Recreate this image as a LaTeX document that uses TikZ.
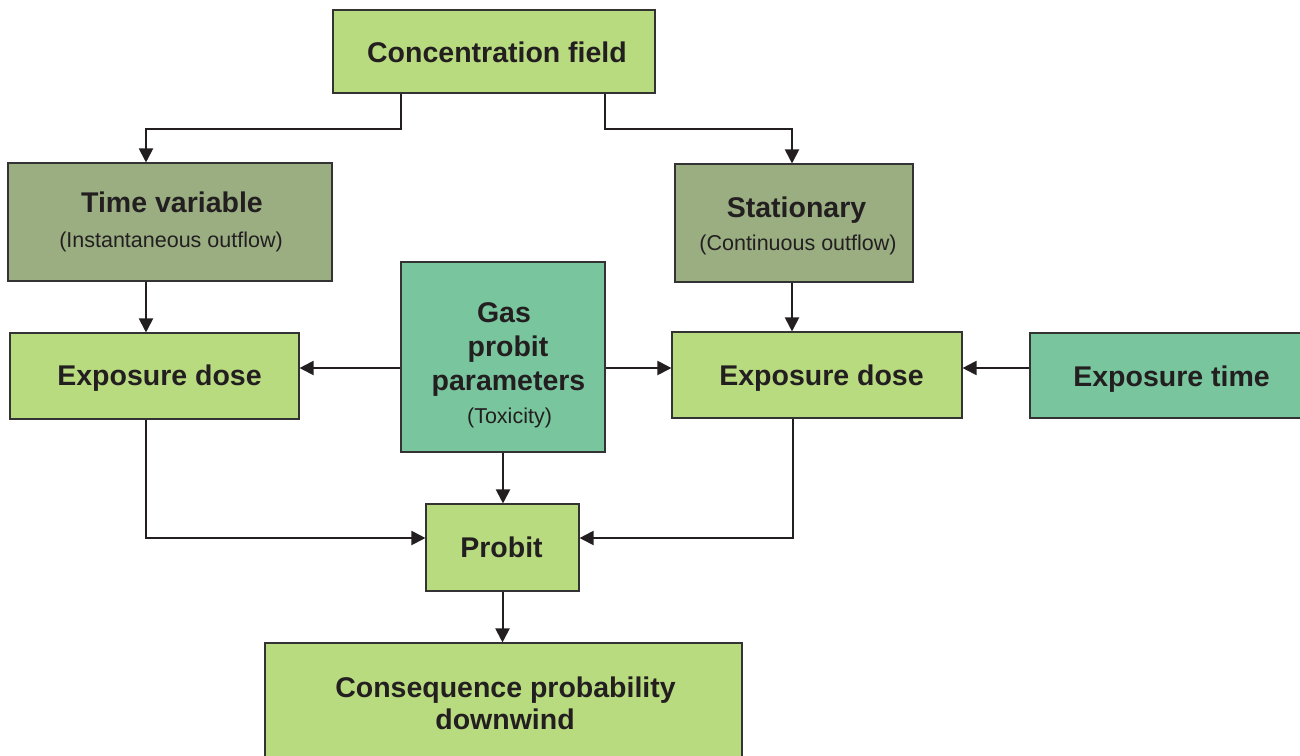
\documentclass[tikz,border=0pt]{standalone}
\usepackage{fontspec}
\setmainfont{Liberation Sans}
\usetikzlibrary{arrows.meta}
\definecolor{lgreen}{HTML}{B9DB7F}
\definecolor{sage}{HTML}{9AAE82}
\definecolor{teal2}{HTML}{78C59E}
\definecolor{edge}{HTML}{333333}
\definecolor{ink}{HTML}{231F20}
\tikzset{
  box/.style={draw=edge, line width=1.1pt, inner sep=0pt},
  lg/.style={box, fill=lgreen},
  sg/.style={box, fill=sage},
  tl/.style={box, fill=teal2},
  ttl/.style={anchor=base, inner sep=0pt, text=ink, font=\fontsize{28.5}{34}\selectfont\bfseries},
  sub/.style={anchor=base, inner sep=0pt, text=ink, font=\fontsize{21.5}{26}\selectfont},
  arr/.style={draw=ink, line width=2pt, -{Triangle[length=14pt,width=14pt]}}
}
\begin{document}
\begin{tikzpicture}[x=1pt,y=-1pt]
\useasboundingbox (0,0) rectangle (1300,755);
\clip (0,0) rectangle (1300,755);
% boxes
\node[lg, minimum width=322pt, minimum height=83pt] (conc) at (494,51.5) {};
\node[sg, minimum width=324pt, minimum height=118pt] (tv) at (170,222) {};
\node[sg, minimum width=238pt, minimum height=118pt] (st) at (794,223) {};
\node[lg, minimum width=289pt, minimum height=86pt] (ed1) at (154.5,376) {};
\node[tl, minimum width=204pt, minimum height=190pt] (gp) at (503,357) {};
\node[lg, minimum width=290pt, minimum height=86pt] (ed2) at (817,375) {};
\node[tl, minimum width=280pt, minimum height=85pt] (et) at (1170,375.5) {};
\node[lg, minimum width=153pt, minimum height=87pt] (pr) at (502.5,547.5) {};
\node[lg, minimum width=477pt, minimum height=130pt] (cq) at (503.5,708) {};
% texts
\node[ttl] (conct) at (497,62) {Concentration field};
\node[ttl] (tvt) at (172,212.5) {Time variable};
\node[sub] (tvs) at (171,247) {(Instantaneous outflow)};
\node[ttl] (stt) at (796.5,217) {Stationary};
\node[sub] (sts) at (798,250) {(Continuous outflow)};
\node[ttl] (ed1t) at (159.5,385) {Exposure dose};
\node[ttl] (gpt1) at (504,322) {Gas};
\node[ttl] (gpt2) at (508,356) {probit};
\node[ttl] (gpt3) at (508.5,390) {parameters};
\node[sub] (gps) at (509.5,423) {(Toxicity)};
\node[ttl] (ed2t) at (821.5,385) {Exposure dose};
\node[ttl] (ett) at (1171.5,386) {Exposure time};
\node[ttl] (prt) at (501.5,557) {Probit};
\node[ttl] (cqt1) at (505.5,697) {Consequence probability};
\node[ttl] (cqt2) at (505,729) {downwind};
% connectors
\draw[arr] ([xshift=-93pt]conc.south) -- ++(0,35) -| ([xshift=-24pt]tv.north);
\draw[arr] ([xshift=111pt]conc.south) -- ++(0,35) -| ([xshift=-2pt]st.north);
\draw[arr] ([xshift=-24pt]tv.south) -- ([xshift=-24pt]tv.south |- ed1.north);
\draw[arr] ([xshift=-2pt]st.south) -- ([xshift=-2pt]st.south |- ed2.north);
\draw[arr] ([yshift=-11pt]gp.west) -- ([yshift=-11pt]gp.west -| ed1.east);
\draw[arr] ([yshift=-11pt]gp.east) -- ([yshift=-11pt]gp.east -| ed2.west);
\draw[arr] ([yshift=7.5pt]et.west) -- ([yshift=7.5pt]et.west -| ed2.east);
\draw[arr] (gp.south) -- (gp.south |- pr.north);
\draw[arr] ([xshift=-8.5pt]ed1.south) |- ([yshift=9.5pt]pr.west);
\draw[arr] ([xshift=-24pt]ed2.south) |- ([yshift=9.5pt]pr.east);
\draw[arr] (pr.south) -- (pr.south |- cq.north);
\end{tikzpicture}
\end{document}
